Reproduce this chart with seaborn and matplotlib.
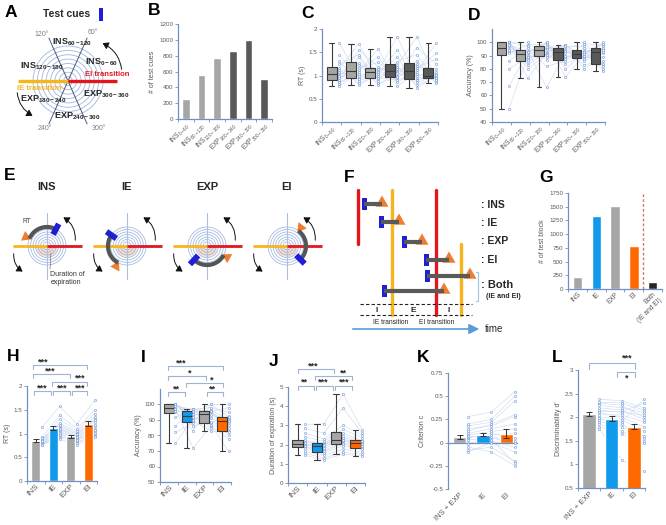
import numpy as np
import pandas as pd
import matplotlib
matplotlib.use("Agg")
import matplotlib.pyplot as plt
import matplotlib.patches as mpatches
from matplotlib.patches import FancyArrowPatch
import seaborn as sns

sns.set_theme(style="white")
plt.rcParams["font.family"] = ["Liberation Sans", "DejaVu Sans"]
plt.rcParams["mathtext.fontset"] = "custom"
plt.rcParams["mathtext.rm"] = "Liberation Sans"
plt.rcParams["mathtext.it"] = "Liberation Sans:italic"
plt.rcParams["mathtext.bf"] = "Liberation Sans:bold"
plt.rcParams["mathtext.default"] = "regular"

# ---------------- data ----------------
PHASES = ["INS 0-60", "INS 60-120", "INS 120-180", "EXP 180-240", "EXP 240-300", "EXP 300-360"]
CUE_COUNTS = [250, 555, 775, 860, 1000, 500]

RT_INS_0_60 = [1.05, 0.88, 1.45, 0.95, 1.16, 0.77, 1.32, 1.01, 1.70, 0.91, 1.12, 0.82, 1.24, 0.99, 1.08, 0.86]
RT_INS_60_120 = [0.99, 1.39, 0.88, 1.16, 1.68, 1.08, 0.79, 1.27, 0.95, 1.55, 0.84, 1.12, 1.45, 0.92, 1.22, 1.04]
RT_INS_120_180 = [1.13, 0.84, 1.06, 1.28, 0.93, 1.57, 1.03, 0.79, 1.10, 1.19, 0.99, 1.40, 0.88, 1.08, 1.15, 0.95]
RT_EXP_180_240 = [1.12, 0.94, 1.55, 1.00, 1.22, 0.77, 1.40, 1.08, 1.83, 0.97, 1.19, 0.85, 1.30, 1.05, 1.15, 0.90]
RT_EXP_240_300 = [0.98, 1.32, 0.85, 1.16, 1.83, 1.08, 0.74, 1.24, 0.93, 1.60, 0.80, 1.12, 1.45, 0.90, 1.20, 1.04]
RT_EXP_300_360 = [1.08, 0.86, 0.99, 1.35, 0.93, 1.70, 0.98, 0.83, 1.04, 1.25, 0.96, 1.48, 0.90, 1.01, 1.13, 0.94]

ACC_INS_0_60 = [97, 86, 100, 93, 100, 50, 100, 95, 100, 92, 100, 67, 100, 94, 98, 80]
ACC_INS_60_120 = [88, 95.5, 83, 92.5, 100, 90, 73, 93.5, 86.3, 98, 80, 92, 97, 85, 93, 89]
ACC_INS_120_180 = [96, 82, 93, 99, 89, 100, 92, 66, 95.5, 98.5, 91, 100, 87, 95, 96.5, 90.3]
ACC_EXP_180_240 = [93, 86, 98, 89, 95, 74, 97.5, 92, 98, 87.3, 94, 80, 97, 90, 93.5, 84]
ACC_EXP_240_300 = [89, 95.5, 86, 92, 100, 90.5, 80, 93.5, 88.2, 99, 83, 91.5, 97, 87.5, 93, 90]
ACC_EXP_300_360 = [95, 80, 92, 98, 83, 100, 89, 78.5, 94, 97.5, 86, 99, 82, 93, 95.5, 83.7]

BLOCK_CATS = ["INS", "IE", "EXP", "EI", "Both\n(IE and EI)"]
BLOCK_COUNTS = [225, 1335, 1520, 785, 120]

CONDS = ["INS", "IE", "EXP", "EI"]
RT_MEAN = [0.85, 1.11, 0.94, 1.21]
RT_SEM = [0.025, 0.045, 0.035, 0.05]
RT_INS = [0.78, 0.85, 0.80, 0.92, 0.76, 0.83, 1.13, 0.79, 0.88, 0.81, 0.77, 0.86, 0.82, 0.90, 0.75, 0.84]
RT_IE = [1.05, 1.22, 0.92, 1.38, 1.00, 1.12, 1.57, 0.95, 1.15, 1.08, 0.88, 1.30, 1.02, 1.18, 0.97, 1.10]
RT_EXP = [0.88, 1.02, 0.82, 1.10, 0.85, 0.95, 1.20, 0.80, 0.98, 0.92, 0.76, 1.05, 0.90, 0.99, 0.87, 0.93]
RT_EI = [1.10, 1.35, 0.98, 1.50, 1.05, 1.25, 1.70, 0.95, 1.30, 1.15, 0.92, 1.42, 1.08, 1.28, 1.02, 1.18]

ACC_INS = [100, 95, 82, 100, 97, 75, 99, 100, 92, 98, 86, 100, 96, 100, 97, 100]
ACC_IE = [93, 97, 88, 95, 72, 91, 97, 89.3, 95.5, 86, 97, 92, 83, 94, 97, 90]
ACC_EXP = [95, 88, 96, 100, 86, 93, 98, 83, 96.5, 89, 95.5, 87, 100, 91, 85, 96]
ACC_EI = [89, 92.5, 83, 100, 78, 91, 95, 82, 90, 85, 98, 70, 92, 87, 89.5, 80]

DUR_INS = [2.04, 1.65, 2.85, 1.9, 2.22, 1.45, 2.6, 1.98, 3.05, 1.87, 2.15, 1.55, 2.4, 1.8, 2.1, 1.95]
DUR_IE = [1.9, 1.45, 2.6, 1.7, 2.08, 1.22, 2.3, 1.8, 3.08, 1.65, 2.02, 1.3, 2.18, 1.55, 2.05, 2.0]
DUR_EXP = [2.26, 1.75, 3.9, 2.1, 2.6, 1.49, 3.0, 2.18, 4.63, 2.03, 2.35, 1.6, 2.8, 1.95, 2.45, 2.22]
DUR_EI = [2.09, 1.6, 2.6, 1.88, 2.2, 1.42, 2.5, 2.03, 2.76, 1.82, 2.12, 1.5, 2.35, 1.75, 2.18, 1.95]

SDT_CONDS = ["INS + EXP", "IE", "EI"]
C_MEAN = [0.057, 0.086, 0.097]
C_SEM = [0.023, 0.02, 0.05]
C_INSEXP = [0.05, 0.12, -0.08, 0.28, 0.0, 0.08, 0.2, -0.05, 0.1, 0.03, -0.1, 0.15, 0.06, 0.18, -0.02, 0.07]
C_IE = [0.1, 0.2, -0.05, 0.33, 0.02, 0.12, 0.25, -0.1, 0.15, 0.05, 0.0, 0.18, 0.08, 0.22, 0.03, 0.06]
C_EI = [0.05, 0.3, -0.2, 0.55, -0.05, 0.15, 0.5, -0.25, 0.2, 0.0, -0.1, 0.28, 0.1, 0.45, -0.22, 0.02]

D_MEAN = [2.07, 1.97, 1.80]
D_SEM = [0.04, 0.05, 0.06]
D_INSEXP = [2.1, 1.85, 2.3, 1.95, 2.2, 1.75, 2.38, 2.0, 2.15, 1.9, 2.25, 1.8, 2.05, 2.12, 1.98, 2.32]
D_IE = [2.0, 1.7, 2.25, 1.9, 2.15, 1.1, 2.35, 1.95, 2.1, 1.85, 2.2, 1.65, 2.05, 2.12, 1.8, 2.3]
D_EI = [1.8, 1.5, 2.0, 2.38, 1.95, 0.85, 2.2, 1.7, 2.05, 1.6, 2.1, 1.45, 1.9, 2.3, 1.55, 2.15]

# ---------------- style ----------------
GRAY = "#a6a6a6"
DARK = "#595959"
BLUE = "#1199ec"
ORANGE = "#ff6a00"
SPINE = "#6f8fc6"
TICKC = "#595959"
PT = "#6d95d6"
PLINE = "#cad7ee"
BRK = "#9db4d6"
CUEBLUE = "#1f1fd6"
RED = "#e3161e"
YEL = "#f6b51d"
TRI = "#ed7d31"

W, H = 666, 525
fig = plt.figure(figsize=(W / 100, H / 100), dpi=100)


def rect(x0, y0, x1, y1):
    return [x0 / W, 1 - y1 / H, (x1 - x0) / W, (y1 - y0) / H]


def sub(lbl):
    name, rng = lbl.split(" ")
    return name + "$_{" + rng + "}$"


def setup(ax, ylim, yticks, ylabel, labels, xfs=5, yfs=4.5):
    k = len(labels)
    ax.set_xlim(-0.5, k - 0.5)
    ax.set_ylim(*ylim)
    ax.set_yticks(yticks)
    ax.set_yticklabels([f"{t:g}" for t in yticks])
    ax.set_xticks(range(k))
    ax.set_xticklabels(labels)
    ax.set_xticks(np.arange(-0.5, k, 1.0), minor=True)
    for s in ["top", "right"]:
        ax.spines[s].set_visible(False)
    for s in ["left", "bottom"]:
        ax.spines[s].set_color(SPINE)
        ax.spines[s].set_linewidth(0.9)
    ax.tick_params(axis="y", which="major", left=True, length=2, width=0.6, color=SPINE,
                   labelsize=yfs, labelcolor=TICKC, pad=1.5)
    ax.tick_params(axis="x", which="major", bottom=False, length=0, labelsize=xfs,
                   labelcolor=TICKC, pad=1.5)
    ax.tick_params(axis="x", which="minor", bottom=True, length=2, width=0.6, color=SPINE)
    ax.set_ylabel(ylabel, fontsize=5, color=TICKC, labelpad=2)
    ax.set_xlabel("")
    plt.setp(ax.get_xticklabels(), rotation=45, ha="right", rotation_mode="anchor")
    ax.set_facecolor("none")
    ax.grid(False)


def participants(ax, lists, offset):
    arr = np.array(lists, dtype=float)
    xs = np.arange(arr.shape[0]) + offset
    for j in range(arr.shape[1]):
        ax.plot(xs, arr[:, j], color=PLINE, lw=0.4, zorder=1, clip_on=False)
    for i in range(arr.shape[0]):
        ax.scatter(np.full(arr.shape[1], xs[i]), arr[i], s=2.5, facecolors="white",
                   edgecolors=PT, linewidths=0.4, zorder=5, clip_on=False)


def box_panel(ax, cats, lists, colors, width, offset):
    df = pd.DataFrame({"cond": np.repeat(cats, [len(l) for l in lists]),
                       "val": np.concatenate([np.array(l, dtype=float) for l in lists])})
    participants(ax, lists, offset)
    sns.boxplot(data=df, x="cond", y="val", order=cats, hue="cond", hue_order=cats,
                palette=colors, saturation=1, legend=False, whis=(0, 100), width=width,
                showfliers=False, linecolor="#3a3a3a", linewidth=0.8, ax=ax,
                boxprops=dict(zorder=3), whiskerprops=dict(zorder=3),
                capprops=dict(zorder=3), medianprops=dict(zorder=4))


def bar_panel(ax, cats, means, sems, lists, colors, width, offset):
    participants(ax, lists, offset)
    sns.barplot(x=cats, y=means, hue=cats, palette=colors, saturation=1, width=width,
                errorbar=None, legend=False, ax=ax, zorder=2)
    ax.errorbar(np.arange(len(cats)), means, yerr=sems, fmt="none", ecolor="#333333",
                elinewidth=0.7, capsize=2, capthick=0.7, zorder=6)


# ---------------- B ----------------
axB = fig.add_axes(rect(178, 24, 272, 119))
sns.barplot(x=PHASES, y=CUE_COUNTS, hue=PHASES, palette=[GRAY] * 3 + [DARK] * 3,
            saturation=1, width=0.5, errorbar=None, legend=False, ax=axB)
setup(axB, (0, 1200), list(range(0, 1201, 200)), "# of test cues", [sub(p) for p in PHASES], xfs=4.8)

# ---------------- C ----------------
axC = fig.add_axes(rect(322, 29, 438, 122))
box_panel(axC, PHASES, [RT_INS_0_60, RT_INS_60_120, RT_INS_120_180, RT_EXP_180_240,
                        RT_EXP_240_300, RT_EXP_300_360], [GRAY] * 3 + [DARK] * 3, 0.52, 0.4)
setup(axC, (0, 2), [0, 0.5, 1, 1.5, 2], "RT (s)", [sub(p) for p in PHASES], xfs=4.8)

# ---------------- D ----------------
axD = fig.add_axes(rect(492, 29, 605, 122))
box_panel(axD, PHASES, [ACC_INS_0_60, ACC_INS_60_120, ACC_INS_120_180, ACC_EXP_180_240,
                        ACC_EXP_240_300, ACC_EXP_300_360], [GRAY] * 3 + [DARK] * 3, 0.5, 0.4)
setup(axD, (40, 110), list(range(40, 101, 10)), "Accuracy (%)", [sub(p) for p in PHASES], xfs=4.8)

# ---------------- G ----------------
axG = fig.add_axes(rect(568, 193, 662, 289))
sns.barplot(x=BLOCK_CATS, y=BLOCK_COUNTS, hue=BLOCK_CATS,
            palette=[GRAY, BLUE, GRAY, ORANGE, "#262626"], saturation=1, width=0.5,
            errorbar=None, legend=False, ax=axG)
setup(axG, (0, 1750), list(range(0, 1751, 250)), "# of test block", BLOCK_CATS, xfs=4.8)
axG.axvline(3.5, color="#e07070", lw=1, ls=(0, (2, 1.5)))

# ---------------- H ----------------
axH = fig.add_axes(rect(27, 386, 97, 481))
bar_panel(axH, CONDS, RT_MEAN, RT_SEM, [RT_INS, RT_IE, RT_EXP, RT_EI],
          [GRAY, BLUE, GRAY, ORANGE], 0.53, 0.36)
setup(axH, (0, 2), [0, 0.5, 1, 1.5, 2], "RT (s)", CONDS, xfs=6)

# ---------------- I ----------------
axI = fig.add_axes(rect(160, 389, 231, 482))
box_panel(axI, CONDS, [ACC_INS, ACC_IE, ACC_EXP, ACC_EI], [GRAY, BLUE, GRAY, ORANGE], 0.55, 0.36)
setup(axI, (50, 110), list(range(50, 101, 10)), "Accuracy (%)", CONDS, xfs=6)

# ---------------- J ----------------
axJ = fig.add_axes(rect(288, 387, 365, 483))
box_panel(axJ, CONDS, [DUR_INS, DUR_IE, DUR_EXP, DUR_EI], [GRAY, BLUE, GRAY, ORANGE], 0.55, 0.36)
setup(axJ, (0, 5), [0, 1, 2, 3, 4, 5], "Duration of expiration (s)", CONDS, xfs=6)

# ---------------- K ----------------
axK = fig.add_axes(rect(448, 373, 518, 489))
bar_panel(axK, SDT_CONDS, C_MEAN, C_SEM, [C_INSEXP, C_IE, C_EI], [GRAY, BLUE, ORANGE], 0.56, 0.36)
setup(axK, (-0.5, 0.75), [-0.5, -0.25, 0, 0.25, 0.5, 0.75], "Criterion c", SDT_CONDS, xfs=5.5)
axK.spines["bottom"].set_visible(False)
axK.tick_params(axis="x", which="minor", length=0)
axK.axhline(0, color=SPINE, lw=0.9, zorder=2.5)

# ---------------- L ----------------
axL = fig.add_axes(rect(578, 370, 645, 488))
bar_panel(axL, SDT_CONDS, D_MEAN, D_SEM, [D_INSEXP, D_IE, D_EI], [GRAY, BLUE, ORANGE], 0.6, 0.45)
setup(axL, (0.5, 3), [0.5, 1, 1.5, 2, 2.5, 3], "Discriminability d'", SDT_CONDS, xfs=5.5)

# ---------------- overlay (diagrams, labels, brackets) ----------------
ov = fig.add_axes([0, 0, 1, 1])
ov.set_xlim(0, W)
ov.set_ylim(H, 0)
ov.axis("off")


def pol(cx, cy, r, a):
    t = np.radians(a)
    return cx + r * np.cos(t), cy - r * np.sin(t)


def arc(cx, cy, r, a1, a2, **kw):
    t = np.radians(np.linspace(a1, a2, 60))
    ov.plot(cx + r * np.cos(t), cy - r * np.sin(t), **kw)


def curved_arrow(p0, p1, rad=0.35):
    ov.add_patch(FancyArrowPatch(p0, p1, connectionstyle=f"arc3,rad={rad}",
                                 arrowstyle="-|>,head_length=3.5,head_width=2.2",
                                 color="#111111", lw=0.7, mutation_scale=1))


# panel letters
for lt, x, y in [("A", 11, 17), ("B", 154, 15), ("C", 307, 18), ("D", 474, 20),
                 ("E", 10, 180), ("F", 349, 182), ("G", 546, 182), ("H", 13, 361),
                 ("I", 143, 362), ("J", 274, 366), ("K", 423, 362), ("L", 557, 362)]:
    ov.text(x, y, lt, fontsize=12.5, fontweight="bold", ha="center", va="baseline", color="black")

# ----- A -----
ov.text(67, 14, "Test cues", fontsize=7.5, fontweight="bold", ha="center", va="center")
ov.add_patch(mpatches.Rectangle((99, 8), 4, 13, color=CUEBLUE, lw=0))
cxA, cyA = 68, 81
for r in np.linspace(4.4, 35, 8):
    ov.add_patch(mpatches.Circle((cxA, cyA), r, fill=False, ec="#9fb6df", lw=0.6))
for a in (66, 114):
    x0, y0 = pol(cxA, cyA, 47, a)
    x1, y1 = pol(cxA, cyA, 47, a + 180)
    ov.plot([x0, x1], [y0, y1], color="#4d5b78", lw=0.7)
ov.plot([18, cxA], [cyA, cyA], color=YEL, lw=2.4, solid_capstyle="butt")
ov.plot([cxA, 117], [cyA, cyA], color=RED, lw=2.4, solid_capstyle="butt")
ov.text(85, 74, "EI transition", color=RED, fontsize=5.5, fontweight="bold", ha="left", va="center")
ov.text(17, 88, "IE transition", color=YEL, fontsize=5.5, fontweight="bold", ha="left", va="center")
curved_arrow((122, 72), (100, 42), 0.3)
curved_arrow((17, 90), (35, 117), 0.3)
for txt, x, y in [("INS 60-120", 52, 42), ("INS 0-60", 85, 62), ("INS 120-180", 20, 66),
                  ("EXP 300-360", 83, 94), ("EXP 180-240", 20, 99), ("EXP 240-300", 54, 116)]:
    n, rg = txt.split(" ")
    ov.text(x, y, n + r"$_{\mathbf{" + rg + "}}$", fontsize=6.5, fontweight="bold",
            ha="left", va="center")
for txt, x, y in [("120°", 42, 35), ("60°", 93, 33), ("240°", 45, 129), ("300°", 99, 129)]:
    ov.text(x, y, txt, fontsize=5, color="#808080", ha="center", va="center")


# ----- E -----
def e_diag(cx, cy, title, blue_a, orange_a, a1, a2):
    ov.text(cx, 187, title, fontsize=8, fontweight="bold", ha="center", va="center")
    t = np.radians(np.linspace(180, 360, 40))
    ov.fill(cx + 11 * np.cos(t), cy - 11 * np.sin(t), color="#f8dcc8", lw=0)
    for r in np.linspace(4, 19, 7):
        ov.add_patch(mpatches.Circle((cx, cy), r, fill=False, ec="#9fb6df", lw=0.55))
    ov.plot([cx, cx], [cy - 33, cy + 33], color="#a8c0e2", lw=0.8)
    ov.plot([cx - 34, cx], [cy, cy], color=YEL, lw=2, solid_capstyle="butt")
    ov.plot([cx, cx + 35], [cy, cy], color=RED, lw=2, solid_capstyle="butt")
    arc(cx, cy, 19, a1, a2, color="#555555", lw=3, solid_capstyle="butt")
    xa, ya = pol(cx, cy, 13, blue_a)
    xb, yb = pol(cx, cy, 25, blue_a)
    ov.plot([xa, xb], [ya, yb], color=CUEBLUE, lw=4.2, solid_capstyle="butt")
    xo, yo = pol(cx, cy, 23, orange_a)
    ov.add_patch(mpatches.RegularPolygon((xo, yo), numVertices=3, radius=6,
                                         orientation=np.radians(90 - orange_a), color=TRI, lw=0))
    curved_arrow((cx + 28, cy - 3), (cx + 14, cy - 30), 0.35)
    curved_arrow((cx - 33, cy + 5), (cx - 22, cy + 27), 0.35)


e_diag(47, 246, "INS", 62, 157, 62, 157)
e_diag(127, 246, "IE", 145, 242, 145, 242)
e_diag(207, 246, "EXP", 227, 331, 227, 331)
e_diag(287, 246, "EI", 315, 53, -45, 53)
ov.text(26.5, 221.5, "RT", fontsize=4.8, color="#404040", ha="center", va="center")
ov.plot([51, 50], [253, 269], color="#555555", lw=0.4)
ov.text(50, 274, "Duration of", fontsize=5, color="#333333", ha="left", va="center")
ov.text(51, 283, "expiration", fontsize=5, color="#333333", ha="left", va="center")

# ----- F -----
ov.plot([358, 358], [190, 244], color=RED, lw=2.4)
ov.plot([392, 392], [190, 315], color=YEL, lw=2.4)
ov.plot([436, 436], [190, 315], color=RED, lw=2.4)
ov.plot([461, 461], [244, 315], color=YEL, lw=2.4)
for y, xb, xt in [(204, 364, 382), (222, 381, 399), (242, 404, 422), (260, 426, 449),
                  (276, 427, 470), (291, 384, 444)]:
    ov.plot([xb, xt], [y, y], color="#5a5a5a", lw=3, solid_capstyle="butt")
    ov.add_patch(mpatches.Rectangle((xb - 2.5, y - 6), 5, 12, color=CUEBLUE, lw=0))
    ov.add_patch(mpatches.RegularPolygon((xt, y - 1), numVertices=3, radius=7.5,
                                         orientation=np.pi, color=TRI, lw=0))
for txt, y in [(": INS", 205), (": IE", 223), (": EXP", 241), (": EI", 260)]:
    ov.text(481, y, txt, fontsize=7.5, fontweight="bold", ha="left", va="center")
ov.text(481, 285, ": Both", fontsize=8, fontweight="bold", ha="left", va="center")
ov.text(486, 297, "(IE and EI)", fontsize=5, fontweight="bold", ha="left", va="center")
ov.plot([476, 478, 478, 476], [272, 272, 301, 301], color="#9dc3e6", lw=0.8)
ov.plot([360, 472], [304, 304], color="#222222", lw=0.8, ls=(0, (3, 2)))
ov.plot([360, 472], [315, 315], color="#222222", lw=0.8, ls=(0, (3, 2)))
for txt, x in [("I", 377), ("E", 413), ("I", 449)]:
    ov.text(x, 310, txt, fontsize=6, fontweight="bold", ha="center", va="center")
ov.annotate("", xy=(482, 329), xytext=(350, 329),
            arrowprops=dict(arrowstyle="-|>,head_length=0.5,head_width=0.25", color="#5b9bd5", lw=1.2))
ov.text(485, 329, "time", fontsize=7, ha="left", va="center")
ov.text(391, 322, "IE transition", fontsize=4.8, ha="center", va="center")
ov.text(437, 322, "EI transition", fontsize=4.8, ha="center", va="center")


# ----- significance brackets -----
def bracket(x1, x2, y, tx, ty, txt, leg=4):
    ov.plot([x1, x1, x2, x2], [y + leg, y, y, y + leg], color=BRK, lw=0.8)
    ov.text(tx, ty, txt, fontsize=6.5, fontweight="bold", ha="center", va="center")


for b in [(33, 87, 365, 43, 362, "***"), (33, 70, 374, 50, 371, "***"), (52, 87, 382, 80, 378, "***"),
          (34, 51, 391, 42, 388, "***"), (53, 70, 391, 62, 388, "***"), (72, 87, 391, 80, 388, "***")]:
    bracket(*b)
for b in [(168, 223, 366, 181, 363, "***"), (168, 206, 376, 190, 373, "*"), (186, 223, 383, 212, 380, "*"),
          (168, 185, 392, 176, 389, "**"), (207, 223, 392, 212, 389, "**")]:
    bracket(*b)
for b in [(298, 334, 369, 313, 366, "***"), (315, 352, 376, 343, 373, "**"), (298, 314, 386, 304, 382, "**"),
          (316, 333, 386, 323, 382, "***"), (335, 352, 386, 344, 382, "***")]:
    bracket(*b)
bracket(589, 635, 363, 627, 358, "***", leg=6)
bracket(617, 635, 372, 627, 378, "*", leg=5)

fig.savefig("out.png", dpi=100)
